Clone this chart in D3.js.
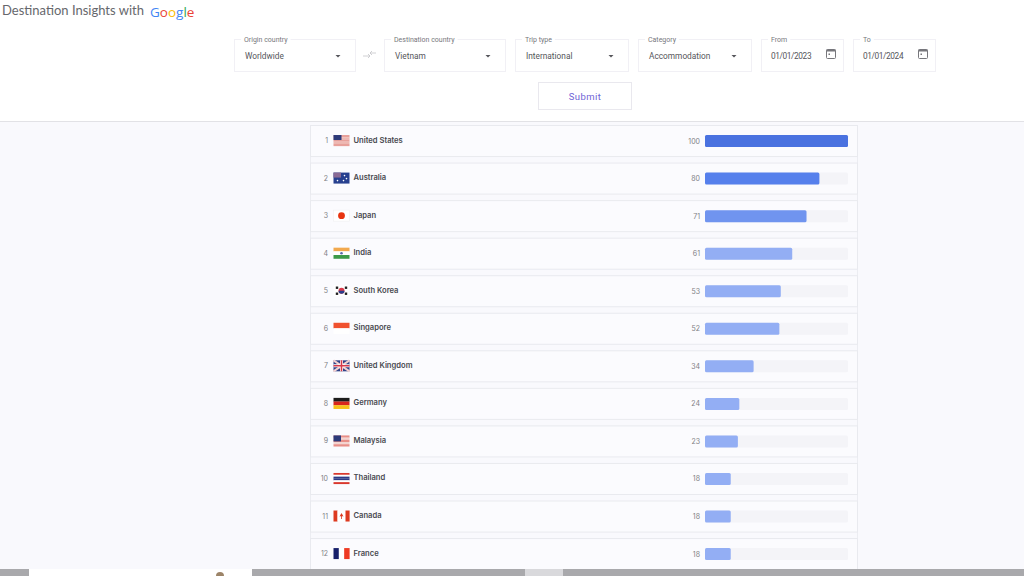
<!DOCTYPE html>
<html>
<head>
<meta charset="utf-8">
<script src="https://cdn.jsdelivr.net/npm/d3@7"></script>
<style>
  html, body { margin: 0; padding: 0; background: #fff; overflow: hidden; }
  svg { display: block; }
</style>
</head>
<body>
<div id="chart"></div>
<script>
const countries = ["United States", "Australia", "Japan", "India", "South Korea", "Singapore",
  "United Kingdom", "Germany", "Malaysia", "Thailand", "Canada", "France"];
const ranks = [1, 2, 3, 4, 5, 6, 7, 8, 9, 10, 11, 12];
const scores = [100, 80, 71, 61, 53, 52, 34, 24, 23, 18, 18, 18];
const googleLetters = ["G", "o", "o", "g", "l", "e"];
const googleColors = ["#4285f4", "#ea4335", "#fbbc05", "#4285f4", "#34a853", "#ea4335"];

const selects = [
  { label: "Origin country", value: "Worldwide", x: 234, w: 121 },
  { label: "Destination country", value: "Vietnam", x: 384, w: 121 },
  { label: "Trip type", value: "International", x: 515, w: 113 },
  { label: "Category", value: "Accommodation", x: 638, w: 113 }
];
const dates = [
  { label: "From", value: "01/01/2023", x: 761, w: 82 },
  { label: "To", value: "01/01/2024", x: 853, w: 82 }
];

const width = 1024, height = 576;
const svg = d3.select("#chart").append("svg").attr("width", width).attr("height", height);
const font = "Roboto, sans-serif";

// page background under the header
svg.append("rect").attr("y", 122).attr("width", width).attr("height", height - 122).attr("fill", "#f9f9fd");
svg.append("line").attr("x1", 0).attr("x2", width).attr("y1", 121.5).attr("y2", 121.5).attr("stroke", "#e2e2e6");

// title
svg.append("text").attr("x", 2).attr("y", 15).attr("font-family", "Lato, sans-serif")
  .attr("font-size", 13).attr("fill", "#66676c").text("Destination Insights with");
const logo = svg.append("text").attr("x", 150).attr("y", 17).attr("font-family", "'Open Sans', sans-serif")
  .attr("font-size", 13.5).attr("font-weight", 500);
logo.selectAll("tspan").data(googleLetters).join("tspan")
  .attr("fill", (d, i) => googleColors[i]).text(d => d);

// form boxes
function field(d, spacing) {
  const g = svg.append("g").attr("transform", `translate(${d.x},39)`);
  g.append("rect").attr("x", 0.5).attr("y", 0.5).attr("width", d.w).attr("height", 32)
    .attr("fill", "#fff").attr("stroke", "#f1f0f5");
  const lab = g.append("text").attr("x", 10).attr("y", 2.5).attr("font-family", font)
    .attr("font-size", 7).attr("fill", "#77777c").text(d.label);
  const lw = lab.node().getComputedTextLength();
  g.insert("rect", "text").attr("x", 7).attr("y", -1).attr("width", lw + 6).attr("height", 3).attr("fill", "#fff");
  g.append("text").attr("x", spacing ? 10 : 11).attr("y", 20).attr("font-family", font)
    .attr("font-size", 8.3).attr("letter-spacing", spacing || 0).attr("fill", "#55555a").text(d.value);
  return g;
}
selects.forEach(d => {
  const g = field(d);
  g.append("path").attr("d", `M${d.w - 19.5},16 h5 l-2.5,2.5 z`).attr("fill", "#55555a");
});
dates.forEach(d => {
  const g = field(d, -0.4);
  g.append("rect").attr("x", 65.5).attr("y", 10.5).attr("width", 9).attr("height", 9)
    .attr("rx", 1).attr("fill", "none").attr("stroke", "#77777c");
  g.append("rect").attr("x", 65.5).attr("y", 10.5).attr("width", 9).attr("height", 2).attr("fill", "#77777c");
  g.append("rect").attr("x", 67.5).attr("y", 14.5).attr("width", 1.5).attr("height", 1.5).attr("fill", "#77777c");
});

// swap arrows between origin and destination
svg.append("path").attr("d", "M363,56 h7 M368,54 l2,2 l-2,2 M376,53 h-6 M372,51 l-2,2 l2,2")
  .attr("fill", "none").attr("stroke", "#c4c4c8").attr("stroke-width", 0.8);

// submit button
svg.append("rect").attr("x", 538.5).attr("y", 82.5).attr("width", 93).attr("height", 27)
  .attr("fill", "#fff").attr("stroke", "#e9e8ee");
svg.append("text").attr("x", 585).attr("y", 99.5).attr("text-anchor", "middle").attr("font-family", font)
  .attr("font-size", 9.5).attr("letter-spacing", 0.4).attr("fill", "#6f64d6").text("Submit");

// list
const y = d3.scaleBand().domain(ranks).range([122.25, 572.85]).paddingInner(0.173).paddingOuter(0.0865);
const x = d3.scaleLinear().domain([0, 100]).range([705, 848]);
const barColor = v => v === 100 ? "#4a72e0" : v === 80 ? "#5680ec" : v === 71 ? "#7094ef" : "#93aef4";

svg.append("line").attr("x1", 310.5).attr("x2", 310.5).attr("y1", 125).attr("y2", 569).attr("stroke", "#ecedf2");
svg.append("line").attr("x1", 857.5).attr("x2", 857.5).attr("y1", 125).attr("y2", 569).attr("stroke", "#ecedf2");

const rows = svg.append("g").selectAll("g").data(ranks).join("g")
  .attr("transform", d => `translate(0,${y(d)})`);
const bh = y.bandwidth();

rows.append("rect").attr("x", 310.5).attr("y", 0).attr("width", 547).attr("height", bh)
  .attr("fill", "#fbfbfe").attr("stroke", "#e9eaef");
rows.append("text").attr("x", 328).attr("y", bh / 2 + 2).attr("text-anchor", "end")
  .attr("font-family", "Inter, sans-serif").attr("font-size", 7).attr("fill", "#808085").text(d => d);
rows.append("text").attr("x", 353.5).attr("y", bh / 2 + 1.5)
  .attr("font-family", "Inter, sans-serif").attr("font-size", 7.6).attr("font-weight", 600)
  .attr("fill", "#48494f").text((d, i) => countries[i]);
rows.append("text").attr("x", 700).attr("y", bh / 2 + 2.5).attr("text-anchor", "end")
  .attr("font-family", "Inter, sans-serif").attr("font-size", 7).attr("fill", "#808085").text((d, i) => scores[i]);
rows.append("rect").attr("x", x(0)).attr("y", bh / 2 - 6).attr("width", x(100) - x(0)).attr("height", 12)
  .attr("rx", 1.5).attr("fill", "#f4f4f8");
rows.append("rect").attr("x", x(0)).attr("y", bh / 2 - 6).attr("width", (d, i) => x(scores[i]) - x(0)).attr("height", 12)
  .attr("rx", 1.5).attr("fill", (d, i) => barColor(scores[i]));

// flags, 16x11 boxes
const stripes = (g, cols) => cols.forEach((c, i) => g.append("rect").attr("y", i * 11 / cols.length)
  .attr("width", 16).attr("height", 11 / cols.length + 0.1).attr("fill", c));
const vstripes = (g, cols) => cols.forEach((c, i) => c && g.append("rect").attr("x", i * 16 / cols.length)
  .attr("width", 16 / cols.length + 0.1).attr("height", 11).attr("fill", c));
const canton = (g, w, h, c) => g.append("rect").attr("width", w).attr("height", h).attr("fill", c);
const flags = {
  "United States": g => { stripes(g, ["#e8a09a", "#eeb8b2", "#e8a09a", "#eeb8b2", "#e8a09a"]); canton(g, 8, 5, "#2c3a7a"); },
  "Australia": g => {
    g.append("rect").attr("width", 16).attr("height", 11).attr("fill", "#27408f");
    canton(g, 7.5, 5, "#8a6a94");
    [[11, 3], [13, 6], [10, 8], [4, 8]].forEach(p => g.append("circle").attr("cx", p[0]).attr("cy", p[1]).attr("r", 0.8).attr("fill", "#fff"));
  },
  "Japan": g => {
    g.append("rect").attr("width", 16).attr("height", 11).attr("fill", "#fff").attr("stroke", "#eee").attr("stroke-width", 0.5);
    g.append("circle").attr("cx", 8).attr("cy", 5.5).attr("r", 3.4).attr("fill", "#e8340f");
  },
  "India": g => { stripes(g, ["#f2a94e", "#fff", "#3d9a48"]); g.append("circle").attr("cx", 8).attr("cy", 5.5).attr("r", 1.3).attr("fill", "#5a6aa8"); },
  "South Korea": g => {
    g.append("rect").attr("width", 16).attr("height", 11).attr("fill", "#fff");
    g.append("circle").attr("cx", 8).attr("cy", 5.5).attr("r", 3).attr("fill", "#d9384a");
    g.append("path").attr("d", "M5,5.5 a3,3 0 0 0 6,0 z").attr("fill", "#2b3f8c");
    [[3.5, 2.5], [12.5, 2.5], [3.5, 8.5], [12.5, 8.5]].forEach(p => g.append("rect").attr("x", p[0] - 1.2).attr("y", p[1] - 1.2)
      .attr("width", 2.4).attr("height", 2.4).attr("fill", "#222"));
  },
  "Singapore": g => { stripes(g, ["#f0512f", "#fff"]); },
  "United Kingdom": g => {
    g.append("rect").attr("width", 16).attr("height", 11).attr("fill", "#2f4187");
    g.append("path").attr("d", "M0,0 L16,11 M16,0 L0,11").attr("stroke", "#f3d0d0").attr("stroke-width", 2);
    g.append("path").attr("d", "M8,0 V11 M0,5.5 H16").attr("stroke", "#fff").attr("stroke-width", 3);
    g.append("path").attr("d", "M8,0 V11 M0,5.5 H16").attr("stroke", "#d6394a").attr("stroke-width", 1.6);
  },
  "Germany": g => stripes(g, ["#1c1c1c", "#d8261c", "#f7c11a"]),
  "Malaysia": g => { stripes(g, ["#e88f88", "#f4d4d0", "#e88f88", "#f4d4d0", "#e88f88"]); canton(g, 7.5, 6, "#2c3a7a"); },
  "Thailand": g => stripes(g, ["#d9382e", "#fff", "#2d3a85", "#2d3a85", "#fff", "#d9382e"]),
  "Canada": g => {
    vstripes(g, ["#dd3a20", "#fff", "#fff", "#dd3a20"]);
    g.append("path").attr("d", "M8,2.5 L10,6 L8,5.6 L6,6 Z M7.6,5.5 h0.8 v3 h-0.8 z").attr("fill", "#dd3a20");
  },
  "France": g => vstripes(g, ["#17206b", "#fff", "#ee3b24"])
};
rows.append("g").attr("transform", `translate(333.5,${bh / 2 - 6})`)
  .each(function (d, i) { flags[countries[i]](d3.select(this)); });

// video player strip at the bottom edge
svg.append("rect").attr("y", 569).attr("width", width).attr("height", 7).attr("fill", "#a9a9ac");
svg.append("rect").attr("x", 29).attr("y", 569).attr("width", 223).attr("height", 7).attr("fill", "#fff");
svg.append("rect").attr("x", 525).attr("y", 569).attr("width", 38).attr("height", 7).attr("fill", "#d9d9dc");
svg.append("circle").attr("cx", 220).attr("cy", 576).attr("r", 4).attr("fill", "#9c8468");
</script>
</body>
</html>
